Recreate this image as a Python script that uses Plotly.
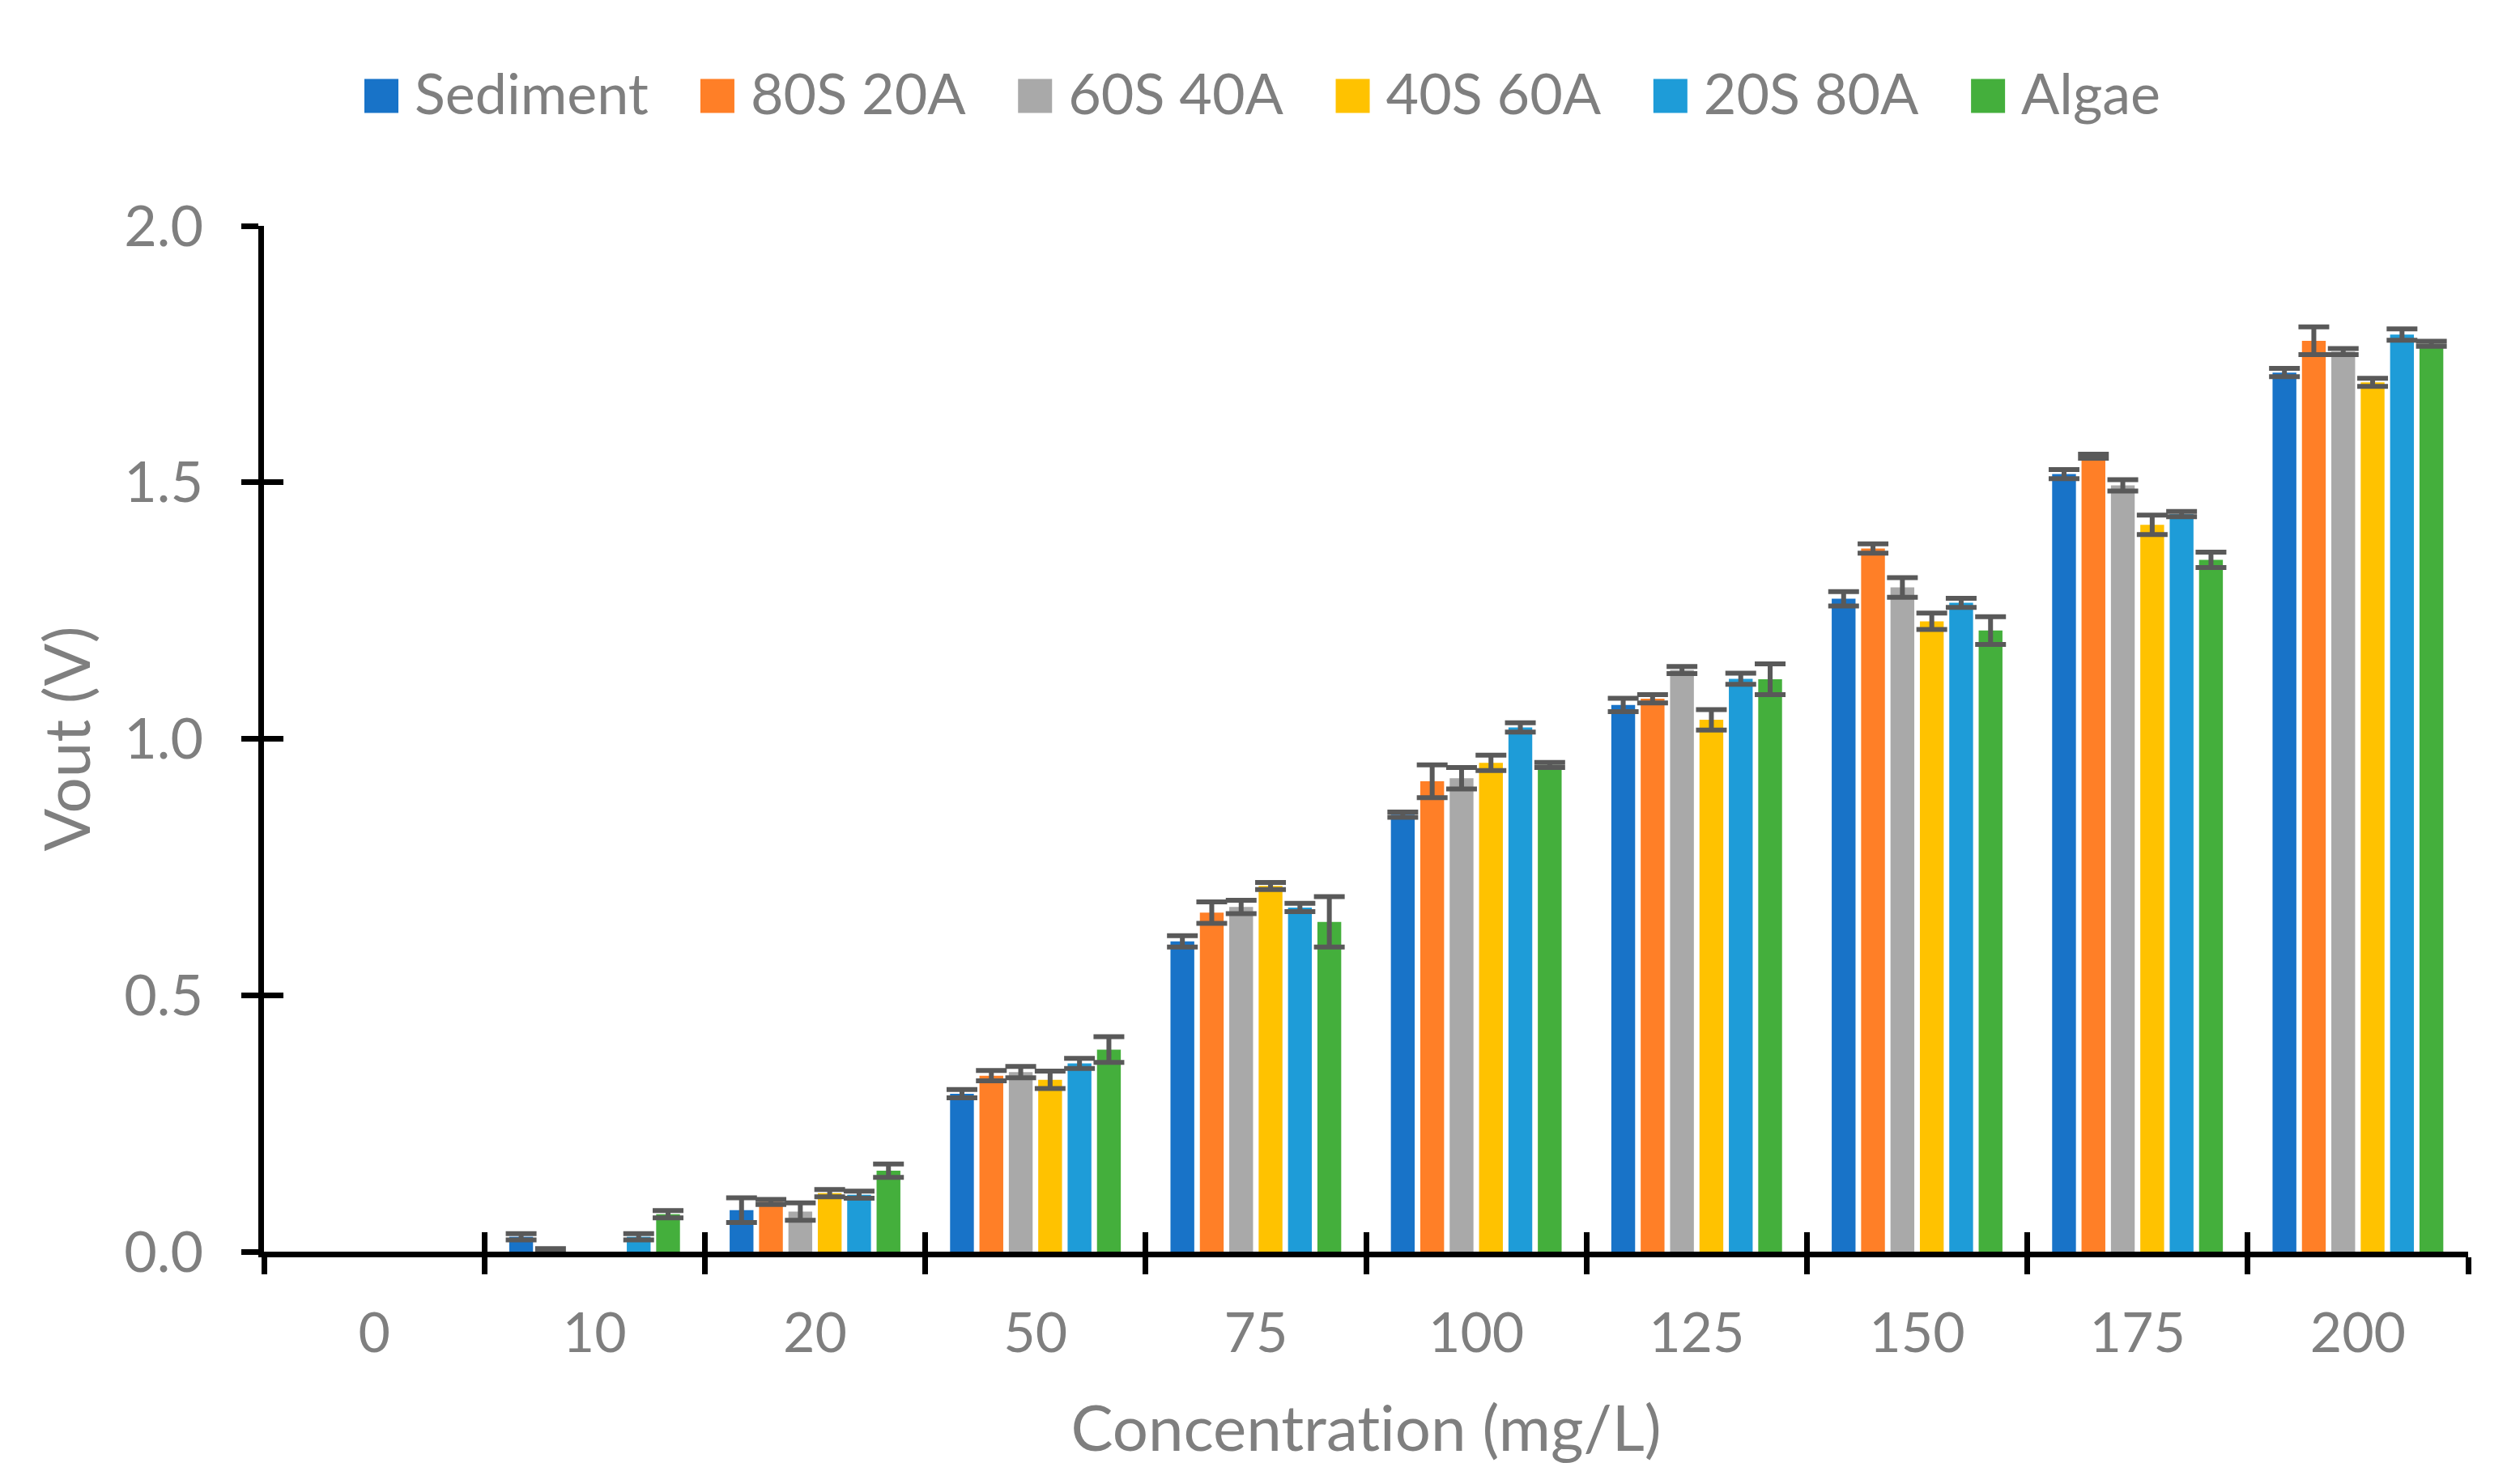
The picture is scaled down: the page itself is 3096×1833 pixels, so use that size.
import plotly.graph_objects as go

categories = ["0", "10", "20", "50", "75", "100", "125", "150", "175", "200"]
series_names = ["Sediment", "80S 20A", "60S 40A", "40S 60A", "20S 80A", "Algae"]

sediment = [0, 0.029, 0.081, 0.308, 0.605, 0.852, 1.066, 1.273, 1.516, 1.714]
s80a20 = [0, 0.003, 0.097, 0.343, 0.661, 0.917, 1.078, 1.371, 1.551, 1.776]
s60a40 = [0, 0, 0.078, 0.350, 0.672, 0.923, 1.134, 1.295, 1.494, 1.755]
s40a60 = [0, 0, 0.114, 0.335, 0.713, 0.953, 1.037, 1.229, 1.417, 1.695]
s20a80 = [0, 0.029, 0.111, 0.367, 0.671, 1.022, 1.117, 1.265, 1.438, 1.788]
algae = [0, 0.073, 0.158, 0.394, 0.643, 0.949, 1.116, 1.211, 1.349, 1.770]

# None = no error bar shown for that point
sediment_err = [None, 0.006, 0.024, 0.008, 0.011, 0.005, 0.013, 0.014, 0.009, 0.008]
s80a20_err = [None, 0.003, 0.005, 0.010, 0.021, 0.032, 0.008, 0.009, 0.004, 0.027]
s60a40_err = [None, None, 0.017, 0.011, 0.013, 0.021, 0.007, 0.019, 0.011, 0.006]
s40a60_err = [None, None, 0.007, 0.017, 0.007, 0.015, 0.020, 0.016, 0.019, 0.008]
s20a80_err = [None, 0.006, 0.007, 0.010, 0.008, 0.009, 0.011, 0.009, 0.005, 0.011]
algae_err = [None, 0.007, 0.013, 0.025, 0.049, 0.005, 0.030, 0.027, 0.015, 0.005]

y_ticks = [0.0, 0.5, 1.0, 1.5, 2.0]

colors = ["#1873C8", "#FF7F27", "#A9A9A9", "#FFC200", "#1E9CD8", "#44AF3C"]
values = [sediment, s80a20, s60a40, s40a60, s20a80, algae]
errors = [sediment_err, s80a20_err, s60a40_err, s40a60_err, s20a80_err, algae_err]

FONT = "Lato"
GRAY = "#7f7f7f"

fig = go.Figure()
for name, vals, errs, col in zip(series_names, values, errors, colors):
    # points without a measurable value/error are not drawn (as in the original)
    y_plot = [v if (e is not None) else None for v, e in zip(vals, errs)]
    fig.add_trace(go.Bar(
        x=categories, y=y_plot, name=name,
        marker=dict(color=col, line=dict(width=0)),
        error_y=dict(type="data", array=[e if e is not None else 0 for e in errs],
                     visible=True, color="#595959", thickness=6, width=19),
    ))

# invisible helper trace on overlay axes: draws the inner half of the crossing tick marks
fig.add_trace(go.Scatter(x=categories, y=[0] * len(categories), xaxis="x2", yaxis="y2",
                         mode="markers", marker=dict(opacity=0, size=1),
                         showlegend=False, hoverinfo="skip"))

fig.update_layout(
    width=3096, height=1833,
    margin=dict(l=326, r=48, t=279, b=287),
    paper_bgcolor="white", plot_bgcolor="white",
    barmode="group", bargap=0.2, bargroupgap=0.19,
    font=dict(family=FONT, color=GRAY, size=68),
    legend=dict(orientation="h", xref="container", yref="container",
                x=(512 - 121) / 3096, xanchor="left", y=1 - 114 / 1833, yanchor="middle",
                font=dict(size=70, color=GRAY), itemwidth=111,
                traceorder="normal"),
    xaxis=dict(
        type="category", categoryorder="array", categoryarray=categories,
        range=[-0.5, len(categories) - 0.5],
        showline=True, linecolor="black", linewidth=7,
        ticks="outside", ticklen=21, tickwidth=7, tickcolor="black",
        tickson="boundaries", showgrid=False, zeroline=False,
        tickfont=dict(size=68, color=GRAY), ticklabelstandoff=35,
        title=dict(text="Concentration (mg/L)", font=dict(size=78, color=GRAY), standoff=57),
    ),
    xaxis2=dict(
        type="category", categoryorder="array", categoryarray=categories,
        range=[-0.5, len(categories) - 0.5],
        overlaying="x", anchor="y2", side="bottom",
        showline=False, ticks="inside", ticklen=24, tickwidth=7, tickcolor="black",
        tickson="boundaries", showgrid=False, zeroline=False, showticklabels=False,
    ),
    yaxis=dict(
        range=[0, 2.0], tickvals=y_ticks, tickformat=".1f",
        showline=True, linecolor="black", linewidth=7,
        ticks="outside", ticklen=21, tickwidth=7, tickcolor="black",
        showgrid=False, zeroline=False,
        tickfont=dict(size=70, color=GRAY), ticklabelstandoff=33,
        title=dict(text="Vout (V)", font=dict(size=78, color=GRAY), standoff=18),
    ),
    yaxis2=dict(
        range=[0, 2.0], tickvals=y_ticks,
        overlaying="y", anchor="x2", side="left",
        showline=False, ticks="inside", ticklen=24, tickwidth=7, tickcolor="black",
        showgrid=False, zeroline=False, showticklabels=False,
    ),
)

post_js = """
document.body.style.margin = '0';
document.body.style.overflow = 'hidden';
var st = document.createElement('style');
st.textContent = '.main-svg text { font-variant-ligatures: none; font-feature-settings: "liga" 0, "clig" 0, "dlig" 0; }';
document.head.appendChild(st);
var gd = document.getElementById('{plot_id}');
function fixLegend(){
  var items = gd.querySelectorAll('.legend .traces');
  items.forEach(function(it){
    var t = it.querySelector('.legendtext');
    var p = it.querySelector('.legendpoints path');
    if(!t || !p) return;
    if(!p.hasAttribute('data-orig-tf')) {
      p.setAttribute('data-orig-tf', p.getAttribute('transform') || '');
    }
    var base = p.getAttribute('data-orig-tf');
    p.setAttribute('d', 'M21,21H-21V-21H21Z');
    p.setAttribute('transform', base);
    var tr = t.getBoundingClientRect();
    var pr = p.getBoundingClientRect();
    var dx = (tr.left - 20) - pr.right;
    var dy = (tr.top + tr.height * 0.80) - pr.bottom;
    p.setAttribute('transform', base + ' translate(' + dx + ',' + dy + ')');
  });
}
fixLegend();
gd.on('plotly_afterplot', fixLegend);
"""

fig.write_html("out.html", post_script=post_js, config={"displayModeBar": False})
